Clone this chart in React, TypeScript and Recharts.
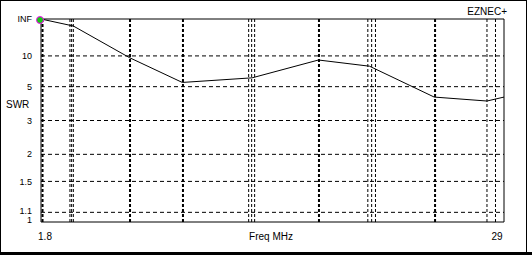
import { LineChart, Line, XAxis, YAxis, ReferenceLine } from 'recharts';

// SWR sweep, one point per frequency (MHz)
const freqs = [1.8, 3.7, 7.0, 10.1, 14.2, 18.1, 21.1, 24.9, 28.0, 29.0];
const swr = [Infinity, 57, 9.5, 5.4, 5.9, 8.9, 7.6, 4.2, 3.95, 4.2];

const swrTicks = [1, 1.1, 1.5, 2, 3, 5, 10, Infinity];
const swrTickLabels = ['1', '1.1', '1.5', '2', '3', '5', '10', 'INF'];
const freqTicks = [1.8, 29];

// ham band markers
const bandLines = [3.5, 3.6, 3.7, 14.0, 14.175, 14.35, 21.0, 21.225, 21.45, 28.0, 28.5];
const narrowBandLines = [1.89, 7.03, 10.14, 18.13, 24.95];

// EZNEC plots SWR on a reflection-coefficient scale
const toRho = (s: number) => (s === Infinity ? 1 : (s - 1) / (s + 1));

const data = freqs.map((f, i) => ({ freq: f, rho: toRho(swr[i]) }));
const rhoTicks = swrTicks.map(toRho);

const FONT = '"Liberation Sans", Arial, sans-serif';

const YTick = (props: any) => {
  const { x, y, payload } = props;
  const i = rhoTicks.indexOf(payload.value);
  // bottom two labels sit tight, nudge them apart
  const nudge = i === 0 ? -2 : i === 1 ? -1.5 : 0;
  return (
    <text
      x={x}
      y={y + nudge}
      dy="0.35em"
      textAnchor="end"
      fontFamily={FONT}
      fontSize={9}
      fill="#000"
    >
      {swrTickLabels[i]}
    </text>
  );
};

const XTick = (props: any) => {
  const { x, y, payload } = props;
  const shift = payload.value === freqTicks[0] ? 4 : -7;
  return (
    <text x={x + shift} y={y} dy="0.71em" textAnchor="middle" fontFamily={FONT} fontSize={10} fill="#000">
      {String(payload.value)}
    </text>
  );
};

const FirstDot = (props: any) => {
  const { cx, cy, index } = props;
  if (index !== 0) return <g key={index} />;
  return <circle key={index} cx={cx - 1} cy={cy + 1} r={3.5} fill="#11cc11" stroke="#ff00ff" strokeWidth={1} />;
};

export default function App() {
  return (
    <div style={{ position: 'fixed', left: 0, top: 0, width: 532, height: 256, background: '#fff' }}>
      <LineChart width={532} height={256} data={data} margin={{ top: 19, right: 28, bottom: 0, left: 0 }}>
        <XAxis
          dataKey="freq"
          type="number"
          domain={[1.8, 29]}
          ticks={freqTicks}
          tick={<XTick />}
          tickLine={false}
          tickSize={0}
          tickMargin={11}
          height={34}
          axisLine={{ stroke: '#000' }}
        />
        <YAxis
          type="number"
          domain={[0, 1]}
          ticks={rhoTicks}
          tick={<YTick />}
          tickLine={false}
          tickSize={0}
          tickMargin={9}
          width={41}
          axisLine={{ stroke: '#000' }}
          interval={0}
        />
        {rhoTicks.slice(1, -1).map((r) => (
          <ReferenceLine key={'h' + r} y={r} stroke="#000" strokeDasharray="4 3" />
        ))}
        <ReferenceLine y={1} stroke="#000" />
        <ReferenceLine x={29} stroke="#000" />
        {bandLines.map((f) => (
          <ReferenceLine key={'b' + f} x={f} stroke="#000" strokeDasharray="3 2" />
        ))}
        {narrowBandLines.map((f) => (
          <ReferenceLine key={'n' + f} x={f} stroke="#000" strokeWidth={2} strokeDasharray="3 2" />
        ))}
        <Line
          type="linear"
          dataKey="rho"
          stroke="#000"
          strokeWidth={1}
          dot={<FirstDot />}
          activeDot={false}
          isAnimationActive={false}
        />
      </LineChart>
      <svg
        width={532}
        height={256}
        style={{ position: 'absolute', left: 0, top: 0, pointerEvents: 'none' }}
        fontFamily={FONT}
        fontSize={10}
      >
        <text x={6} y={104} dy="0.35em" textAnchor="start">SWR</text>
        <text x={271} y={233} dy="0.71em" textAnchor="middle">Freq MHz</text>
        <text x={507} y={8} dy="0.71em" textAnchor="end">EZNEC+</text>
      </svg>
      <div
        style={{
          position: 'absolute',
          left: 0,
          top: 0,
          width: 525,
          height: 252,
          borderLeft: '1px solid #000',
          borderTop: '1px solid #000',
          borderRight: '1px solid #000',
        }}
      />
      <div style={{ position: 'absolute', left: 0, top: 252, width: 532, height: 3, background: '#000' }} />
    </div>
  );
}
